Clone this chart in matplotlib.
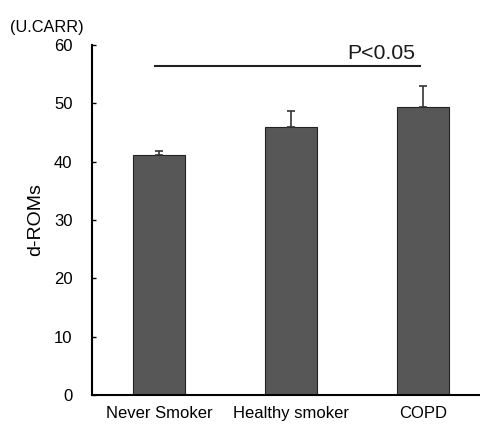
import matplotlib
matplotlib.use('Agg')
import matplotlib.pyplot as plt
import numpy as np

## data
groups = ['Never Smoker', 'Healthy smoker', 'COPD']
means = [41.1, 46.0, 49.4]
sem = [0.8, 2.7, 3.5]
sig_y = 56.4
sig_text = 'P<0.05'

fig = plt.figure(figsize=(4.81, 4.29), dpi=100)
ax = fig.add_axes([0.191, 0.0793, 0.809, 0.816])

x = np.arange(len(groups))
ax.bar(x, means, width=0.394, color='#575757', edgecolor='#222222', linewidth=0.8, zorder=2)
ax.errorbar(x, means, yerr=[np.zeros(len(sem)), sem], fmt='none', ecolor='#333333',
            elinewidth=1.2, capsize=3, capthick=1.2, zorder=3)

# significance line
ax.plot([-0.03, 1.98], [sig_y, sig_y], color='#222222', lw=1.5, clip_on=False)
ax.text(1.94, sig_y + 0.5, sig_text, ha='right', va='bottom', fontsize=15.3,
        family='Liberation Sans', color='#1a1a1a')

ax.set_xlim(-0.508, 2.44)
ax.set_ylim(0, 60)
ax.set_yticks(range(0, 61, 10))
ax.set_xticks(x)
ax.set_xticklabels(groups, fontsize=12, family='Liberation Sans')
for lab in ax.get_yticklabels():
    lab.set_fontsize(12)
    lab.set_family('Liberation Sans')
ax.tick_params(axis='y', direction='in', length=3, width=1, pad=14)
ax.tick_params(axis='x', length=0, pad=8)
ax.spines['top'].set_visible(False)
ax.spines['right'].set_visible(False)
ax.spines['left'].set_linewidth(1.5)
ax.spines['bottom'].set_linewidth(1.5)

ax.set_ylabel('d-ROMs', fontsize=14, family='Liberation Sans', labelpad=7)
fig.text(0.021, 0.935, '(U.CARR)', fontsize=11.7, family='Liberation Sans', va='center')

fig.savefig('out.png', dpi=100)
